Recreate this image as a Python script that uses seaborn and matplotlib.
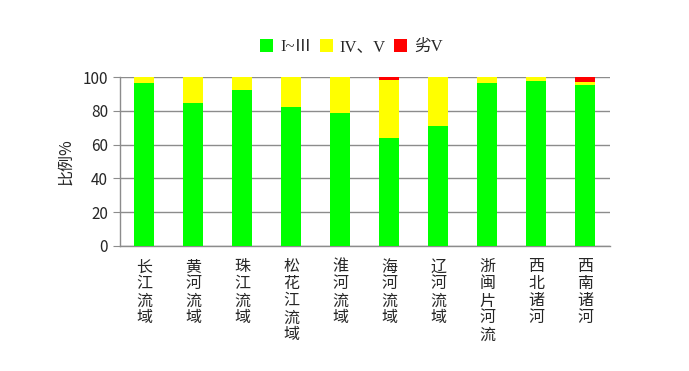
import numpy as np
import pandas as pd
import seaborn as sns
import matplotlib.pyplot as plt
from matplotlib.patches import Patch

# river basins and water quality shares (%)
basins = ["长江流域", "黄河流域", "珠江流域", "松花江流域", "淮河流域",
          "海河流域", "辽河流域", "浙闽片河流", "西北诸河", "西南诸河"]
grade_1_3 = [96.7, 84.6, 92.5, 82.6, 79.0, 64.0, 71.1, 96.8, 98.0, 95.1]
grade_4_5 = [3.3, 15.4, 7.5, 17.4, 21.0, 34.5, 28.9, 3.2, 2.0, 1.8]
grade_bad = [0.0, 0.0, 0.0, 0.0, 0.0, 1.5, 0.0, 0.0, 0.0, 3.1]
legend_labels = ["I~Ⅲ", "IV、V", "劣V"]
colors = ["#00ff00", "#ffff00", "#ff0000"]

sns.set_style("white")
plt.rcParams['font.family'] = ['Noto Sans CJK SC', 'DejaVu Sans']

df = pd.DataFrame({"basin": basins, "g1": grade_1_3, "g2": grade_4_5, "g3": grade_bad})
df["lab"] = ["\n".join(b) for b in df["basin"]]
df["c3"] = df.g1 + df.g2 + df.g3
df["c2"] = df.g1 + df.g2

fig = plt.figure(figsize=(6.89, 3.71), dpi=100)
ax = fig.add_axes([0.174, 0.337, 0.711, 0.455])

# stacked look: draw cumulative totals from the top down
for col, c in zip(["c3", "c2", "g1"], colors[::-1]):
    sns.barplot(data=df, x="lab", y=col, color=c, width=0.41,
                saturation=1, ax=ax, zorder=3, linewidth=0)

ax.set_ylim(0, 100)
ax.set_xlim(-0.5, len(basins) - 0.5)
ax.set_yticks(range(0, 101, 20))
ax.yaxis.grid(True, color="#8c8c8c", linewidth=1, zorder=0)
ax.set_xlabel("")
ax.set_ylabel("比例%", fontsize=11.5, labelpad=6)

for s in ["top", "right"]:
    ax.spines[s].set_visible(False)
for s in ["left", "bottom"]:
    ax.spines[s].set_color("#8c8c8c")
    ax.spines[s].set_linewidth(1)

# category labels without tick marks, boundary ticks as minor
ax.tick_params(axis="x", which="major", length=0, pad=9, labelsize=11.5)
ax.set_xticks(np.arange(-0.5, len(basins)), minor=True)
ax.tick_params(axis="x", which="minor", length=5, color="#8c8c8c")
for t in ax.get_xticklabels():
    t.set_linespacing(1.0)
    t.set_verticalalignment("top")
ax.tick_params(axis="y", length=5, color="#8c8c8c", labelsize=11, left=True)

handles = [Patch(facecolor=c, edgecolor="none") for c in colors]
fig.legend(handles, legend_labels, loc="center", bbox_to_anchor=(0.51, 0.873),
           ncol=3, frameon=False, handlelength=0.8, handleheight=0.8,
           handletextpad=0.4, columnspacing=0.5,
           prop={"family": ["Liberation Serif", "Noto Sans CJK SC"], "size": 12})

fig.savefig("out.png", dpi=100)
